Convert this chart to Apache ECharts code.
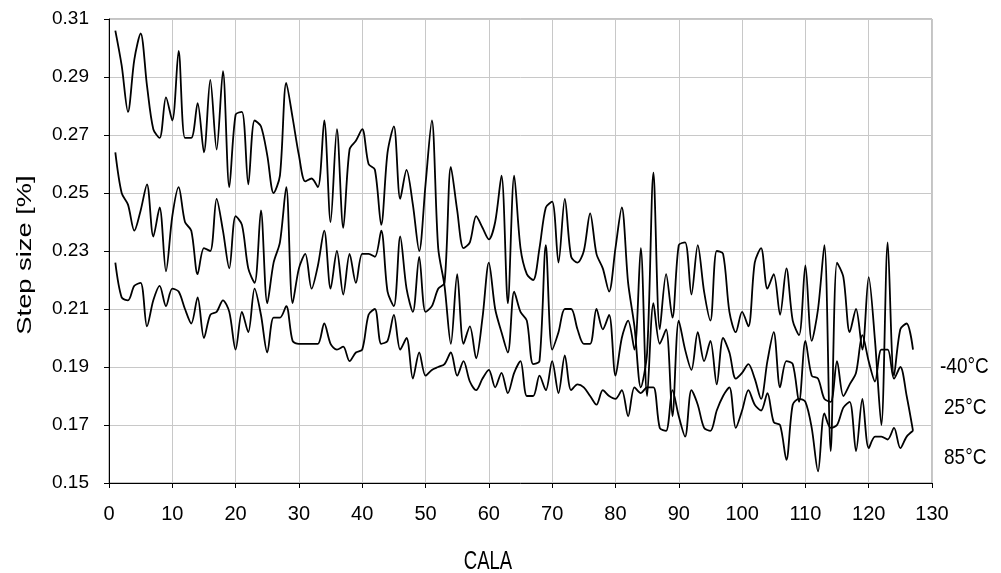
<!DOCTYPE html>
<html><head><meta charset="utf-8">
<script src="https://cdn.jsdelivr.net/npm/echarts@6/dist/echarts.min.js"></script>
<style>html,body{margin:0;padding:0;background:#fff}#c{width:1001px;height:573px}</style>
</head><body><div id="c"></div>
<script>
const cala = [1,2,3,4,5,6,7,8,9,10,11,12,13,14,15,16,17,18,19,20,21,22,23,24,25,26,27,28,29,30,31,32,33,34,35,36,37,38,39,40,41,42,43,44,45,46,47,48,49,50,51,52,53,54,55,56,57,58,59,60,61,62,63,64,65,66,67,68,69,70,71,72,73,74,75,76,77,78,79,80,81,82,83,84,85,86,87,88,89,90,91,92,93,94,95,96,97,98,99,100,101,102,103,104,105,106,107,108,109,110,111,112,113,114,115,116,117,118,119,120,121,122,123,124,125,126,127];

const stepMinus40 = [
0.306,0.294,0.278,0.296,0.305,0.287,0.272,0.269,0.283,0.275,0.299,0.269,0.269,0.281,0.264,
0.289,0.265,0.292,0.252,0.277,0.278,0.253,0.275,0.273,0.263,0.250,0.256,0.288,0.276,0.263,0.254,
0.255,0.252,0.275,0.240,0.272,0.238,0.265,0.268,0.272,0.260,0.258,0.239,0.264,0.273,
0.248,0.258,0.246,0.230,0.253,0.275,0.231,0.218,0.198,0.222,0.198,0.204,0.193,0.207,0.226,0.210,0.202,0.195,
0.216,0.209,0.206,0.191,0.192,0.232,0.196,0.202,0.210,0.210,0.203,0.198,0.198,0.210,0.203,0.208,
0.187,0.200,0.206,0.196,0.231,0.180,0.212,0.198,0.203,0.173,0.206,0.196,0.189,0.202,
0.192,0.199,0.184,0.200,0.195,0.186,0.188,0.191,0.186,0.179,0.192,0.202,0.183,0.192,0.191,
0.178,0.199,0.187,0.186,0.179,0.178,0.192,0.180,0.184,0.188,0.201,0.192,0.185,0.196,0.196,0.186,0.190,0.180,0.168];

const step25 = [
0.264,0.250,0.246,0.237,0.244,0.253,0.235,0.245,0.223,0.242,0.252,0.240,0.237,0.222,0.231,
0.230,0.248,0.237,0.224,0.242,0.239,0.224,0.219,0.244,0.212,0.226,0.233,0.252,0.212,0.224,0.229,
0.217,0.225,0.237,0.217,0.230,0.215,0.229,0.219,0.229,0.229,0.228,0.237,0.216,0.211,
0.235,0.217,0.209,0.228,0.209,0.211,0.217,0.219,0.259,0.244,0.231,0.233,0.242,0.238,0.234,0.240,0.256,0.212,
0.256,0.231,0.222,0.220,0.231,0.245,0.247,0.226,0.248,0.228,0.226,0.230,0.243,0.229,0.224,0.216,
0.231,0.245,0.219,0.204,0.183,0.195,0.257,0.203,0.222,0.207,0.232,0.233,0.215,0.232,
0.216,0.206,0.230,0.229,0.209,0.202,0.209,0.204,0.226,0.231,0.217,0.222,0.208,0.224,0.206,
0.201,0.225,0.199,0.210,0.232,0.161,0.226,0.221,0.202,0.210,0.196,0.221,0.199,0.170,0.233,0.187,0.203,0.205,0.196];

const step85 = [
0.226,0.214,0.213,0.218,0.219,0.204,0.213,0.218,0.211,0.217,0.216,0.210,0.205,0.214,0.200,
0.208,0.209,0.213,0.209,0.196,0.209,0.202,0.217,0.208,0.195,0.207,0.207,0.211,0.199,0.198,0.198,
0.198,0.198,0.205,0.198,0.196,0.197,0.192,0.195,0.196,0.208,0.210,0.198,0.199,0.208,
0.196,0.200,0.186,0.195,0.187,0.189,0.190,0.191,0.195,0.187,0.192,0.185,0.182,0.186,0.189,0.183,0.188,0.181,
0.188,0.192,0.180,0.180,0.187,0.182,0.192,0.181,0.194,0.182,0.184,0.183,0.180,0.177,0.182,0.180,
0.179,0.182,0.173,0.183,0.181,0.183,0.183,0.169,0.168,0.182,0.173,0.166,0.182,0.177,
0.169,0.168,0.175,0.180,0.183,0.169,0.175,0.182,0.177,0.175,0.181,0.171,0.170,0.158,0.177,
0.179,0.178,0.169,0.154,0.174,0.169,0.170,0.176,0.178,0.161,0.179,0.162,0.166,0.166,0.165,0.169,0.162,0.166,0.168];

const seriesNames = ['-40°C', '25°C', '85°C'];
const yTicks = [0.15,0.17,0.19,0.21,0.23,0.25,0.27,0.29,0.31];
const xTicks = [0,10,20,30,40,50,60,70,80,90,100,110,120,130];

// y axis works in hundredths shifted by +1 so the min (16) is a multiple of the interval (2)
const toAxis = v => v * 100 + 1;
const fromAxis = a => (a - 1) / 100;

const FONT = '"Liberation Sans", Arial, Helvetica, sans-serif';
const chart = echarts.init(document.getElementById('c'), null, {renderer: 'canvas'});
const allSeries = [stepMinus40, step25, step85];
chart.setOption({
  animation: false,
  backgroundColor: '#fff',
  textStyle: {fontFamily: FONT},
  grid: {left: 109, right: 69, top: 19, bottom: 90, show: true, borderColor: '#888', borderWidth: 1},
  xAxis: {
    type: 'value', min: xTicks[0], max: xTicks[xTicks.length-1], interval: 10,
    axisLine: {onZero: false, lineStyle: {color: '#000', width: 1}},
    axisTick: {show: true, length: 5, lineStyle: {color: '#000'}},
    axisLabel: {fontSize: 20, color: '#000', margin: 21, fontFamily: FONT},
    splitLine: {show: true, lineStyle: {color: '#c8c8c8', width: 1}}
  },
  yAxis: {
    type: 'value', min: toAxis(yTicks[0]), max: toAxis(yTicks[yTicks.length-1]), interval: 2,
    axisLine: {show: true, lineStyle: {color: '#000', width: 1}},
    axisTick: {show: true, length: 5, lineStyle: {color: '#000'}},
    axisLabel: {fontSize: 19, color: '#000', margin: 20, fontFamily: FONT,
      formatter: a => fromAxis(a).toFixed(2)},
    splitLine: {show: true, lineStyle: {color: '#c8c8c8', width: 1}}
  },
  series: allSeries.map((arr, k) => ({
    name: seriesNames[k], type: 'line', showSymbol: false, symbol: 'none', smooth: 0.3,
    lineStyle: {color: '#000', width: 1.8}, z: 3,
    data: arr.map((v, i) => [cala[i], toAxis(v)])
  })),
  graphic: [
    {type: 'text', x: 25, y: 255, rotation: Math.PI / 2, scaleX: 1.3, scaleY: 1,
      style: {text: 'Step size [%]', font: '21px ' + FONT, fill: '#000', align: 'center', verticalAlign: 'middle'}},
    {type: 'text', x: 488, y: 562, scaleX: 1, scaleY: 1.38,
      style: {text: 'CALA', font: '18.5px ' + FONT, fill: '#000', align: 'center', verticalAlign: 'middle'}},
    {type: 'text', x: 940, y: 367, scaleY: 1.12,
      style: {text: seriesNames[0], font: '19px ' + FONT, fill: '#000', verticalAlign: 'middle'}},
    {type: 'text', x: 944, y: 408, scaleY: 1.12,
      style: {text: seriesNames[1], font: '19px ' + FONT, fill: '#000', verticalAlign: 'middle'}},
    {type: 'text', x: 944, y: 458, scaleY: 1.12,
      style: {text: seriesNames[2], font: '19px ' + FONT, fill: '#000', verticalAlign: 'middle'}}
  ]
});
</script></body></html>
